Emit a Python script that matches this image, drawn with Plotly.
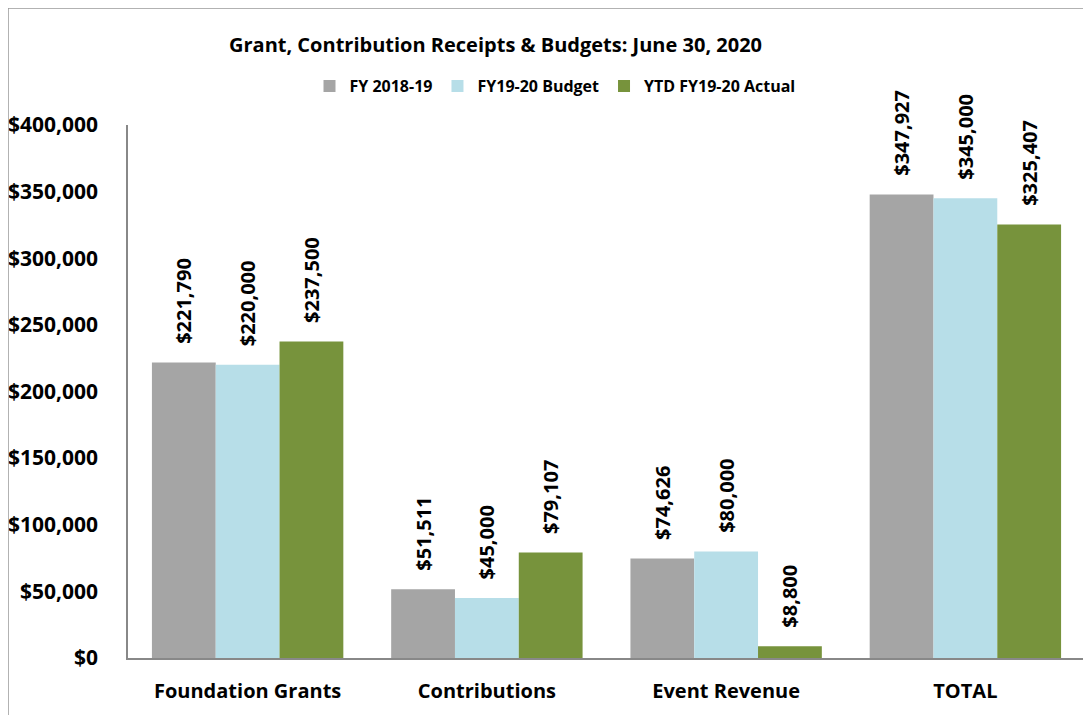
import plotly.graph_objects as go

categories = ["Foundation Grants", "Contributions", "Event Revenue", "TOTAL"]
fy1819 = [221790, 51511, 74626, 347927]
budget = [220000, 45000, 80000, 345000]
actual = [237500, 79107, 8800, 325407]
series_names = ["FY 2018-19", "FY19-20 Budget", "YTD FY19-20 Actual"]
colors = ["#A5A5A5", "#B7DEE8", "#77933C"]
tick_vals = [0, 50000, 100000, 150000, 200000, 250000, 300000, 350000, 400000]
tick_text = ["$0", "$50,000", "$100,000", "$150,000", "$200,000", "$250,000", "$300,000", "$350,000", "$400,000"]

FONT = "Open Sans, Arial"
OFF = 8  # browser body margin

fig = go.Figure()
for name, vals, c in zip(series_names, [fy1819, budget, actual], colors):
    fig.add_trace(go.Bar(
        x=categories, y=vals, name=name, marker_color=c, marker_line_width=0,
        text=["\u00a0\u00a0\u00a0" + f"${v:,}" for v in vals], textposition="outside", textangle=-90,
        constraintext="none",
        textfont=dict(size=20, color="black", family=FONT, weight="bold"),
        cliponaxis=False,
    ))

W, H = 1091 - OFF, 715 - OFF
L, R, T, B = 128 - OFF, 6, 125 - OFF, 57
pw, ph = W - L - R, H - T - B
def px(x): return (x - OFF - L) / pw
def py(y): return 1 - (y - OFF - T) / ph

fig.update_layout(
    width=W, height=H,
    margin=dict(l=L, r=R, t=T, b=B, autoexpand=False),
    paper_bgcolor="white", plot_bgcolor="white",
    barmode="group", bargap=0.2, bargroupgap=0,
    font=dict(family=FONT, color="black"),
    showlegend=True,
    legend=dict(orientation="h", x=px(555), xanchor="center", y=py(86), yanchor="middle",
                font=dict(size=16, family=FONT, weight="bold"), itemwidth=30, tracegroupgap=0),
    xaxis=dict(showline=True, linecolor="#888888", linewidth=1.5, ticks="",
               tickfont=dict(size=20, family=FONT, weight="bold"), showgrid=False,
               ticklabelstandoff=14),
    yaxis=dict(range=[0, 400000], tickvals=tick_vals, ticktext=tick_text, showgrid=False,
               showline=True, linecolor="#888888", linewidth=1.5, ticks="",
               tickfont=dict(size=21, family=FONT, weight="bold"), zeroline=False,
               ticklabelstandoff=24),
    annotations=[dict(text="Grant, Contribution Receipts & Budgets: June 30, 2020",
                      xref="paper", yref="paper", x=px(495), y=py(45), xanchor="center", yanchor="middle",
                      showarrow=False, font=dict(size=20, family=FONT, weight="bold"))],
    shapes=[
        dict(type="line", xref="paper", yref="paper", x0=px(8), x1=px(8), y0=py(8), y1=py(730),
             line=dict(color="#999999", width=1.5)),
        dict(type="line", xref="paper", yref="paper", x0=px(8), x1=px(1100), y0=py(8), y1=py(8),
             line=dict(color="#999999", width=1.5)),
    ],
)
fig.write_html("out.html")
